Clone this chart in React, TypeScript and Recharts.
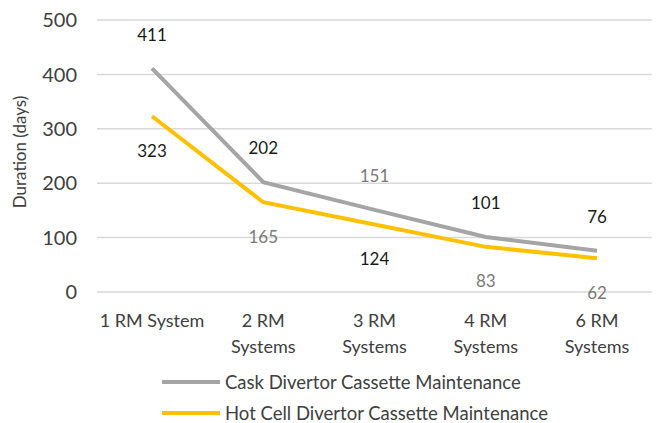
import React from 'react';
import { LineChart, Line, XAxis, YAxis, CartesianGrid, Legend, LabelList } from 'recharts';

const categories = ['1 RM System', '2 RM\nSystems', '3 RM\nSystems', '4 RM\nSystems', '6 RM\nSystems'];
const caskDays = [411, 202, 151, 101, 76];
const hotCellDays = [323, 165, 124, 83, 62];
const yTicks = [0, 100, 200, 300, 400, 500];

const seriesNames = {
  cask: 'Cask Divertor Cassette Maintenance',
  hot: 'Hot Cell Divertor Cassette Maintenance',
};

const data = categories.map((name, i) => ({
  name,
  cask: caskDays[i],
  hot: hotCellDays[i],
}));

const FONT = 'Lato, "Open Sans", sans-serif';
const GREY = '#a5a5a5';
const GOLD = '#ffc000';
const DARK = '#1a1a1a';
const MUTED = '#7a7a7a';

// some value labels are printed in a lighter grey
const caskMuted = [false, false, true, false, false];
const hotMuted = [false, true, false, true, true];

const CategoryTick = ({ x, y, payload }: any) => {
  const lines = String(payload.value).split('\n');
  return (
    <text x={x} y={y} textAnchor="middle" fontFamily={FONT} fontSize={18} fill="#404040">
      {lines.map((ln, i) => (
        <tspan key={i} x={x} dy={i === 0 ? 22 : 26} dominantBaseline="middle">
          {ln}
        </tspan>
      ))}
    </text>
  );
};

const makeLabel = (offset: number, muted: boolean[]) => (props: any) => {
  const { x, y, value, index } = props;
  return (
    <text
      x={x}
      y={y + offset}
      textAnchor="middle"
      dominantBaseline="middle"
      fontFamily={FONT}
      fontSize={17}
      fill={muted[index] ? MUTED : DARK}
    >
      {value}
    </text>
  );
};

const LegendBox = () => (
  <div style={{ fontFamily: FONT, fontSize: 18.5, color: '#404040' }}>
    {[
      { label: seriesNames.cask, color: GREY },
      { label: seriesNames.hot, color: GOLD },
    ].map((item) => (
      <div key={item.label} style={{ display: 'flex', alignItems: 'center', height: 31 }}>
        <div style={{ width: 58, height: 4, background: item.color, marginRight: 5 }} />
        <span>{item.label}</span>
      </div>
    ))}
  </div>
);

export default function App() {
  return (
    <div style={{ position: 'absolute', left: 0, top: 0, width: 656, height: 423, background: '#fff' }}>
      <LineChart
        width={656}
        height={423}
        data={data}
        margin={{ top: 20, right: 4, bottom: 71, left: 0 }}
      >
        <CartesianGrid vertical={false} stroke="#d9d9d9" strokeWidth={1.5} />
        <XAxis
          dataKey="name"
          axisLine={false}
          tickLine={false}
          interval={0}
          padding={{ left: 55, right: 55 }}
          tick={<CategoryTick />}
          height={60}
        />
        <YAxis
          domain={[0, 500]}
          ticks={yTicks}
          width={97}
          axisLine={false}
          tickLine={false}
          tickMargin={14}
          tick={{ fontFamily: FONT, fontSize: 20, fill: '#404040' }}
          label={{
            value: 'Duration (days)',
            angle: -90,
            position: 'insideLeft',
            offset: 20,
            dy: -4,
            style: { fontFamily: FONT, fontSize: 17, fill: '#404040', textAnchor: 'middle' },
          }}
        />
        <Legend
          layout="horizontal"
          align="center"
          verticalAlign="middle"
          content={<LegendBox />}
          wrapperStyle={{ left: 162, top: 366, width: 480 }}
        />
        <Line
          type="linear"
          dataKey="cask"
          name={seriesNames.cask}
          stroke={GREY}
          strokeWidth={4}
          dot={false}
          isAnimationActive={false}
        >
          <LabelList dataKey="cask" content={makeLabel(-32, caskMuted)} />
        </Line>
        <Line
          type="linear"
          dataKey="hot"
          name={seriesNames.hot}
          stroke={GOLD}
          strokeWidth={4}
          dot={false}
          isAnimationActive={false}
        >
          <LabelList dataKey="hot" content={makeLabel(36, hotMuted)} />
        </Line>
      </LineChart>
    </div>
  );
}
